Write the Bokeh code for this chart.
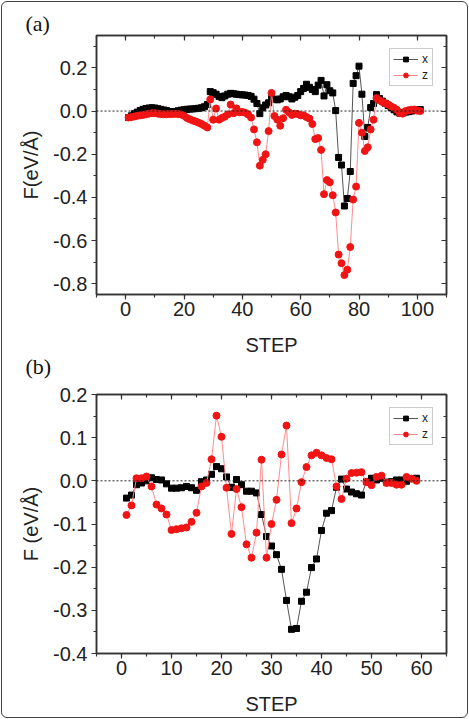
from bokeh.plotting import figure
from bokeh.models import (Span, Title, LinearAxis, SingleIntervalTicker,
                          PrintfTickFormatter, Range1d)
from bokeh.layouts import column
from bokeh.embed import file_html
from bokeh.resources import INLINE

# ---------------- data: panel (a) ----------------
steps_a = list(range(1, 102))
fx_a = [-0.030, -0.022, -0.012, -0.005, 0.003, 0.008, 0.012, 0.014, 0.015, 0.014,
        0.011, 0.008, 0.005, 0.002, -0.002, -0.004, -0.002, 0.001, 0.004, 0.006,
        0.008, 0.009, 0.010, 0.011, 0.013, 0.015, 0.020, 0.030, 0.090, 0.085,
        0.078, 0.068, 0.062, 0.070, 0.078, 0.082, 0.080, 0.078, 0.076, 0.075,
        0.074, 0.072, 0.068, 0.055, 0.035, -0.012, 0.015, 0.028, 0.038, 0.058,
        0.055, 0.052, 0.056, 0.066, 0.072, 0.066, 0.056, 0.064, 0.072, 0.090,
        0.105, 0.124, 0.110, 0.100, 0.090, 0.120, 0.142, 0.070, 0.122, 0.094,
        0.084, 0.002, -0.215, -0.250, -0.440, -0.405, -0.280, 0.128, 0.164, 0.208,
        0.078, -0.118, -0.076, 0.016, 0.035, 0.076, 0.058, 0.046, 0.036, 0.026,
        0.016, 0.006, -0.004, -0.010, -0.008, -0.005, -0.003, 0.000, 0.002, 0.005,
        0.007]
fz_a = [-0.030, -0.028, -0.025, -0.022, -0.020, -0.018, -0.015, -0.012, -0.010, -0.010,
        -0.012, -0.014, -0.015, -0.015, -0.014, -0.014, -0.013, -0.014, -0.016, -0.022,
        -0.032, -0.038, -0.044, -0.048, -0.054, -0.060, -0.068, -0.076, 0.054, -0.040,
        0.012, -0.040, -0.032, -0.026, -0.016, 0.030, -0.010, 0.012, -0.006, -0.004,
        -0.008, -0.016, -0.030, -0.085, -0.145, -0.253, -0.226, -0.200, -0.093, 0.084,
        -0.023, -0.040, -0.068, -0.033, 0.006, -0.006, -0.018, -0.012, -0.014, -0.020,
        -0.020, -0.028, -0.035, -0.060, -0.130, -0.125, -0.180, -0.385, -0.320, -0.330,
        -0.390, -0.470, -0.665, -0.705, -0.760, -0.735, -0.630, -0.410, -0.350, -0.055,
        -0.100, -0.185, -0.168, -0.085, -0.040, 0.060, 0.050, 0.042, 0.036, 0.030,
        0.022, 0.015, 0.006, -0.010, -0.012, 0.000, 0.004, 0.006, 0.007, 0.002,
        0.000]

# ---------------- data: panel (b) ----------------
steps_b = list(range(1, 60))
fx_b = [-0.040, -0.033, -0.009, -0.005, 0.000, 0.007, 0.003, 0.002, -0.007, -0.017,
        -0.017, -0.016, -0.013, -0.016, -0.022, -0.002, 0.002, 0.015, 0.033, 0.028,
        0.009, -0.015, 0.003, -0.009, -0.024, -0.024, -0.028, -0.078, -0.129, -0.151,
        -0.171, -0.205, -0.277, -0.344, -0.342, -0.279, -0.258, -0.201, -0.181, -0.115,
        -0.075, -0.069, -0.015, 0.004, -0.019, -0.026, -0.030, -0.033, -0.002, 0.006,
        0.002, 0.006, -0.003, -0.002, 0.002, 0.002, -0.001, 0.005, 0.006]
fz_b = [-0.079, -0.057, 0.006, 0.006, 0.010, -0.013, -0.055, -0.064, -0.078, -0.114,
        -0.112, -0.110, -0.108, -0.095, -0.074, -0.013, -0.005, 0.050, 0.151, 0.102,
        -0.016, -0.123, -0.019, -0.061, -0.147, -0.178, -0.120, 0.049, -0.178, -0.100,
        -0.044, 0.061, 0.128, -0.098, -0.064, -0.003, 0.032, 0.059, 0.065, 0.059,
        0.053, 0.050, -0.013, -0.042, 0.005, 0.018, 0.019, 0.020, -0.003, -0.010,
        0.009, 0.012, -0.005, -0.005, -0.009, -0.009, 0.009, 0.005, 0.000]

series_labels = ["x", "z"]
panel_tags = ["(a)", "(b)"]
x_axis_label = "STEP"
y_label_a = "F(eV/Å)"
y_label_b = "F (eV/Å)"

AX = "#333333"
TXT = "#222222"
SANS = "Liberation Sans"
SERIF = "Liberation Serif"


def tag_title(text, vertical_align, standoff):
    return Title(text=text, align="left", offset=-71, standoff=standoff,
                 text_font=SERIF, text_font_size="22px",
                 text_font_style="normal", text_color="#111111",
                 vertical_align=vertical_align)


def make_panel(steps, fx, fz, xr, yr, xint, yint, ylabel,
               height, top, bottom):
    p = figure(width=469, height=height, output_backend="svg", toolbar_location=None,
               x_range=Range1d(*xr), y_range=Range1d(*yr),
               min_border_left=96, min_border_right=23,
               min_border_top=top, min_border_bottom=bottom)
    p.border_fill_color = None
    p.background_fill_color = "white"
    p.outline_line_color = AX
    p.outline_line_width = 1.5
    p.xgrid.visible = False
    p.ygrid.visible = False

    xt = SingleIntervalTicker(interval=xint, num_minor_ticks=2)
    yt = SingleIntervalTicker(interval=yint, num_minor_ticks=2)
    p.xaxis[0].ticker = xt
    p.yaxis[0].ticker = yt
    p.yaxis[0].formatter = PrintfTickFormatter(format="%.1f")
    p.xaxis[0].axis_label = x_axis_label
    p.yaxis[0].axis_label = ylabel

    for ax in (p.xaxis[0], p.yaxis[0]):
        ax.axis_line_color = AX
        ax.axis_line_width = 1.5
        ax.major_tick_line_color = AX
        ax.minor_tick_line_color = AX
        ax.major_tick_line_width = 1.2
        ax.minor_tick_line_width = 1.2
        ax.major_tick_out = 5
        ax.major_tick_in = 0
        ax.minor_tick_out = 3
        ax.minor_tick_in = 0
        ax.major_label_text_font = SANS
        ax.major_label_text_font_size = "20px"
        ax.major_label_text_color = TXT
        ax.axis_label_text_font = SANS
        ax.axis_label_text_font_size = "20px"
        ax.axis_label_text_font_style = "normal"
        ax.axis_label_text_color = TXT
    p.xaxis[0].major_label_standoff = 2
    p.xaxis[0].axis_label_standoff = 15
    p.yaxis[0].major_label_standoff = 4
    p.yaxis[0].axis_label_standoff = 8

    # mirrored tick marks on top and right (pointing inwards), no labels
    for loc, tk in (("above", xt), ("right", yt)):
        a = LinearAxis(ticker=tk, major_label_text_font_size="1px",
                       major_label_text_color=None,
                       major_tick_in=5, major_tick_out=0,
                       minor_tick_in=3, minor_tick_out=0,
                       axis_line_color=AX, axis_line_width=1.5,
                       major_tick_line_color=AX, minor_tick_line_color=AX,
                       major_tick_line_width=1.2, minor_tick_line_width=1.2,
                       major_label_standoff=0)
        p.add_layout(a, loc)

    p.add_layout(Span(location=0, dimension="width", line_color="#222222",
                      line_dash="2 2", line_width=1))

    p.line(steps, fx, line_color="#555555", line_width=1, legend_label=series_labels[0])
    p.scatter(steps, fx, marker="square", size=6, fill_color="black",
              line_color="black", legend_label=series_labels[0])
    p.line(steps, fz, line_color="#ff8c8c", line_width=1, legend_label=series_labels[1])
    p.scatter(steps, fz, marker="circle", size=7, fill_color="#f01414",
              line_color="#f01414", legend_label=series_labels[1])

    lg = p.legend[0]
    lg.location = "top_right"
    lg.margin = 13
    lg.border_line_color = "#999999"
    lg.border_line_width = 1
    lg.background_fill_color = "white"
    lg.background_fill_alpha = 1
    lg.label_text_font = SANS
    lg.label_text_font_size = "12px"
    lg.label_text_color = TXT
    lg.glyph_width = 25
    lg.glyph_height = 12
    lg.label_height = 12
    lg.label_width = 7
    lg.label_standoff = 4
    lg.padding = 3
    lg.spacing = 2
    return p


pa = make_panel(steps_a, fx_a, fz_a, (-10, 110), (-0.85, 0.35), 20, 0.2,
                y_label_a, 385, 35, 91)
pa.title = tag_title(panel_tags[0], "bottom", 0)
pa.add_layout(tag_title(panel_tags[1], "top", -10), "below")

pb = make_panel(steps_b, fx_b, fz_b, (-5, 65), (-0.4, 0.2), 10, 0.1,
                y_label_b, 334, 9, 66)
pb.title.visible = False

layout = column(pa, pb, styles={"outline": "1.5px solid #444444",
                                "outline-offset": "-2.5px",
                                "border-radius": "7px",
                                "background-color": "white"})

open("out.html", "w").write(file_html(layout, INLINE))
